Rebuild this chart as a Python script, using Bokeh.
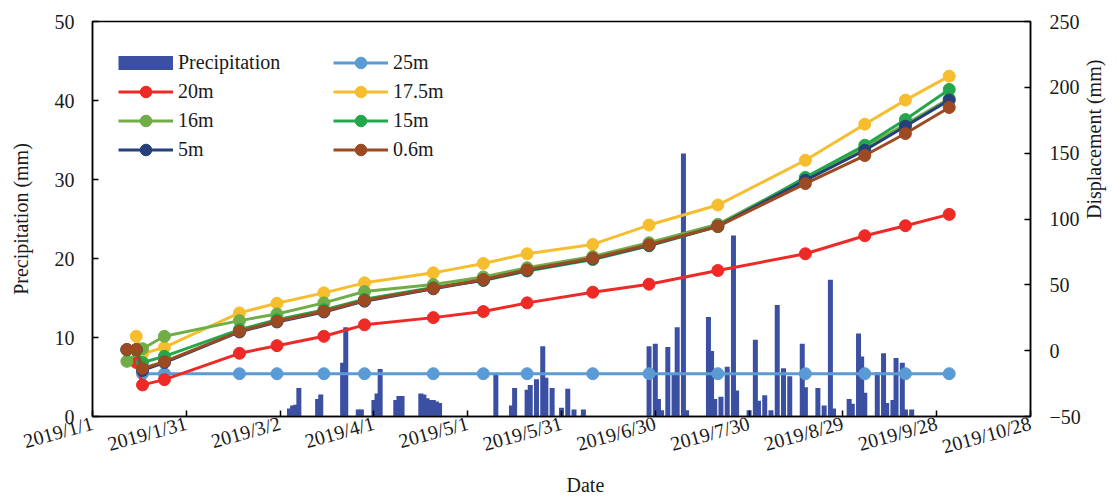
import math
import pandas as pd
from bokeh.plotting import figure
from bokeh.models import Range1d, LinearAxis, FixedTicker, Legend, LegendItem, Title
from bokeh.embed import file_html
from bokeh.resources import INLINE

ORIGIN = pd.Timestamp("2019-01-01")


def day_of(dates):
    return [float((pd.Timestamp(d) - ORIGIN).days) for d in dates]


# ---- axis ticks -------------------------------------------------------------
tick_dates = ["2019-01-01", "2019-01-31", "2019-03-02", "2019-04-01", "2019-05-01",
              "2019-05-31", "2019-06-30", "2019-07-30", "2019-08-29", "2019-09-28",
              "2019-10-28"]
tick_labels = ["2019/1/1", "2019/1/31", "2019/3/2", "2019/4/1", "2019/5/1",
               "2019/5/31", "2019/6/30", "2019/7/30", "2019/8/29", "2019/9/28",
               "2019/10/28"]
precip_ticks = [0, 10, 20, 30, 40, 50]
disp_ticks = [-50, 0, 50, 100, 150, 200, 250]

# ---- daily precipitation (mm) ----------------------------------------------
rain_dates = ["2019-03-05", "2019-03-06", "2019-03-07", "2019-03-08", "2019-03-14",
              "2019-03-15", "2019-03-22", "2019-03-23", "2019-03-27", "2019-03-28",
              "2019-04-01", "2019-04-02", "2019-04-03", "2019-04-08", "2019-04-09",
              "2019-04-10", "2019-04-16", "2019-04-17", "2019-04-18", "2019-04-19",
              "2019-04-20", "2019-04-21", "2019-04-22",
              "2019-05-10", "2019-05-15", "2019-05-16", "2019-05-20", "2019-05-21",
              "2019-05-23", "2019-05-25", "2019-05-26", "2019-05-28", "2019-05-31",
              "2019-06-02", "2019-06-04", "2019-06-07",
              "2019-06-28", "2019-06-30", "2019-07-01", "2019-07-02", "2019-07-04",
              "2019-07-06", "2019-07-07", "2019-07-09", "2019-07-10", "2019-07-17",
              "2019-07-18", "2019-07-19", "2019-07-21", "2019-07-23", "2019-07-25",
              "2019-07-26", "2019-07-30", "2019-08-01", "2019-08-02", "2019-08-04",
              "2019-08-06", "2019-08-08", "2019-08-10", "2019-08-12", "2019-08-16",
              "2019-08-17", "2019-08-21", "2019-08-23", "2019-08-25", "2019-08-26",
              "2019-08-31", "2019-09-01", "2019-09-03", "2019-09-04", "2019-09-05",
              "2019-09-09", "2019-09-11", "2019-09-12", "2019-09-14", "2019-09-15",
              "2019-09-17", "2019-09-18", "2019-09-20"]
rain_mm = [1.0, 1.4, 1.5, 3.6, 2.2,
           2.8, 6.8, 11.3, 0.9, 0.9,
           2.1, 2.9, 6.0, 2.1, 2.6,
           2.6, 2.9, 2.8, 2.3, 2.1,
           2.1, 1.9, 1.7,
           5.3, 1.4, 3.6, 3.4, 4.0,
           4.7, 8.9, 4.9, 3.6, 1.1,
           3.5, 0.9, 0.9,
           8.9, 9.2, 2.2, 0.8, 8.8,
           5.4, 11.3, 33.3, 0.8, 12.6,
           8.3, 2.2, 2.5, 6.3, 22.9,
           3.3, 0.8, 9.7, 2.0, 2.7,
           0.8, 14.1, 6.1, 5.1, 9.2,
           3.7, 3.6, 1.4, 17.3, 1.0,
           2.2, 1.6, 10.5, 7.6, 3.0,
           5.6, 8.0, 1.7, 2.1, 7.4,
           6.8, 0.9, 0.9]

# ---- surface displacement by monitoring depth (mm) --------------------------
survey_dates = ["2019-01-12", "2019-01-15", "2019-01-17", "2019-01-24", "2019-02-17",
                "2019-03-01", "2019-03-16", "2019-03-29", "2019-04-20", "2019-05-06",
                "2019-05-20", "2019-06-10", "2019-06-28", "2019-07-20", "2019-08-17",
                "2019-09-05", "2019-09-18", "2019-10-02"]
disp_25m = [None, None, -17.5, -17.5, -17.5, -17.5, -17.5, -17.5, -17.5, -17.5,
            -17.5, -17.5, -17.5, -17.5, -17.5, -17.5, -17.5, -17.5]
disp_20m = [None, -9.0, -26.0, -22.0, -2.0, 3.8, 10.9, 19.6, 25.1, 29.7,
            36.3, 44.4, 50.5, 60.9, 73.6, 87.3, 94.9, 103.5]
disp_17_5m = [None, 10.9, -2.3, 2.5, 28.7, 36.0, 43.9, 51.5, 59.1, 66.2,
              73.6, 80.7, 95.4, 110.6, 144.6, 172.0, 190.3, 208.5]
disp_16m = [-8.1, None, 1.5, 10.9, 22.8, 27.9, 36.3, 44.9, 50.2, 56.0,
            63.0, 71.5, 82.0, 96.0, 130.9, 154.5, 172.0, 191.5]
disp_15m = [0.5, 0.5, -9.0, -4.3, 16.0, 23.5, 31.0, 39.0, 48.0, 53.3,
            60.5, 69.2, 79.6, 94.2, 131.6, 156.0, 175.5, 198.4]
disp_5m = [0.8, 0.8, -15.0, -9.0, 14.2, 21.8, 29.4, 37.6, 47.0, 53.6,
           61.0, 69.8, 80.0, 94.6, 129.4, 152.2, 170.5, 190.3]
disp_0_6m = [0.8, 0.8, -13.5, -8.4, 14.7, 22.3, 29.9, 38.1, 47.4, 54.0,
             61.4, 70.2, 80.4, 94.4, 126.9, 148.2, 164.9, 184.7]

series = [
    ("25m", disp_25m, "#5B9BD5"),
    ("20m", disp_20m, "#EE2A27"),
    ("17.5m", disp_17_5m, "#F6BE2E"),
    ("16m", disp_16m, "#70AD47"),
    ("15m", disp_15m, "#22A84B"),
    ("5m", disp_5m, "#26407A"),
    ("0.6m", disp_0_6m, "#9B4A22"),
]

FONT = "Liberation Serif"
TEXT = "#1a1a1a"
BAR = "#3B50A2"
tick_days = day_of(tick_dates)

p = figure(width=1118, height=497, output_backend="svg", toolbar_location=None,
           x_range=Range1d(tick_days[0], tick_days[-1]),
           y_range=Range1d(precip_ticks[0], precip_ticks[-1]),
           min_border_left=92, min_border_right=87, min_border_top=21,
           min_border_bottom=81)
p.extra_y_ranges = {"disp": Range1d(disp_ticks[0], disp_ticks[-1])}
p.xgrid.visible = False
p.ygrid.visible = False
p.outline_line_color = "black"
p.outline_line_width = 1.5
p.outline_line_alpha = 1.0
p.background_fill_color = "white"
p.border_fill_color = "white"

right_axis = LinearAxis(y_range_name="disp", axis_label="Displacement (mm)")
p.add_layout(right_axis, "right")

xaxis = p.xaxis[0]
yaxis = p.yaxis[0]
xaxis.ticker = FixedTicker(ticks=tick_days)
xaxis.major_label_overrides = {d: lab for d, lab in zip(tick_days, tick_labels)}
xaxis.major_label_orientation = 0.27
yaxis.ticker = FixedTicker(ticks=precip_ticks)
yaxis.axis_label = "Precipitation (mm)"
right_axis.ticker = FixedTicker(ticks=disp_ticks)

for ax in (xaxis, yaxis, right_axis):
    ax.major_tick_in = 6
    ax.major_tick_out = 0
    ax.minor_tick_line_color = None
    ax.axis_line_color = "black"
    ax.axis_line_width = 1.5
    ax.major_tick_line_color = "black"
    ax.major_tick_line_width = 1.5
    ax.major_label_text_font = FONT
    ax.major_label_text_font_size = "20px"
    ax.major_label_text_color = TEXT
    ax.axis_label_text_font = FONT
    ax.axis_label_text_font_size = "20px"
    ax.axis_label_text_font_style = "normal"
    ax.axis_label_text_color = TEXT

xaxis.major_label_standoff = 6
yaxis.major_label_standoff = 18
yaxis.axis_label_standoff = 20
right_axis.major_label_standoff = 19
right_axis.axis_label_standoff = 10
# read the right-hand title bottom-to-top, like the left one
right_axis.axis_label_orientation = math.pi / 2

# x-axis title, placed a little right of the frame centre
p.add_layout(Title(text="Date", align="left", offset=474, standoff=0,
                   text_font=FONT, text_font_size="20px",
                   text_font_style="normal", text_color=TEXT), "below")

# precipitation bars on the left axis
bars = p.vbar(x=day_of(rain_dates), top=rain_mm, width=1.6,
              fill_color=BAR, line_color=None)
# thick swatch used as the precipitation legend key (drawn outside the view)
bar_key = p.line(x=[-100, -99], y=[-100, -100], line_color=BAR, line_width=14)

# displacement curves on the right axis
legend_refs = {}
for name, values, color in series:
    df = pd.DataFrame({"x": day_of(survey_dates), "y": values}).dropna()
    ln = p.line(df["x"], df["y"], y_range_name="disp", line_color=color, line_width=3)
    mk = p.scatter(df["x"], df["y"], y_range_name="disp", size=12,
                   fill_color=color, line_color=color)
    legend_refs[name] = [ln, mk]


def make_legend(items, x):
    lg = Legend(items=items, location=(x, 252), orientation="vertical",
                glyph_width=55, glyph_height=29, label_standoff=5, spacing=0,
                padding=0, margin=0, border_line_color=None,
                background_fill_alpha=0, label_text_font=FONT,
                label_text_font_size="20px", label_text_color=TEXT)
    p.add_layout(lg, "center")


make_legend([LegendItem(label="Precipitation", renderers=[bar_key]),
             LegendItem(label="20m", renderers=legend_refs["20m"]),
             LegendItem(label="16m", renderers=legend_refs["16m"]),
             LegendItem(label="5m", renderers=legend_refs["5m"])], 26)
make_legend([LegendItem(label="25m", renderers=legend_refs["25m"]),
             LegendItem(label="17.5m", renderers=legend_refs["17.5m"]),
             LegendItem(label="15m", renderers=legend_refs["15m"]),
             LegendItem(label="0.6m", renderers=legend_refs["0.6m"])], 241)

open("out.html", "w").write(file_html(p, INLINE))
